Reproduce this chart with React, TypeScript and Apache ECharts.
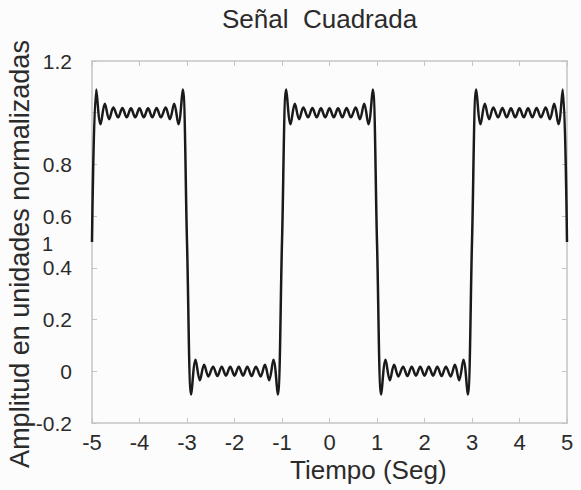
import React, { useEffect, useRef } from "react";
import * as echarts from "echarts";

// Jump points (value 0.5 at each discontinuity)
const saltosT = [-5, -3, -1, 1, 3, 5];
const saltosY = [0.5, 0.5, 0.5, 0.5, 0.5, 0.5];

// Plateau segments: time (s) and amplitude
const tAlto1 = [-4.91, -4.82, -4.73, -4.64, -4.55, -4.45, -4.36, -4.27, -4.18, -4.09, -4.0, -3.91, -3.82, -3.73, -3.64, -3.55, -3.45, -3.36, -3.27, -3.18, -3.09];
const yAlto1 = [1.09, 0.955, 1.035, 0.975, 1.02, 0.982, 1.018, 0.982, 1.017, 0.982, 1.017, 0.982, 1.017, 0.982, 1.018, 0.982, 1.02, 0.975, 1.035, 0.955, 1.09];

const tBajo1 = [-2.91, -2.82, -2.73, -2.64, -2.55, -2.45, -2.36, -2.27, -2.18, -2.09, -2.0, -1.91, -1.82, -1.73, -1.64, -1.55, -1.45, -1.36, -1.27, -1.18, -1.09];
const yBajo1 = [-0.09, 0.045, -0.035, 0.025, -0.02, 0.018, -0.018, 0.018, -0.017, 0.018, -0.017, 0.018, -0.017, 0.018, -0.018, 0.018, -0.02, 0.025, -0.035, 0.045, -0.09];

const tAlto2 = [-0.91, -0.82, -0.73, -0.64, -0.55, -0.45, -0.36, -0.27, -0.18, -0.09, 0.0, 0.09, 0.18, 0.27, 0.36, 0.45, 0.55, 0.64, 0.73, 0.82, 0.91];
const yAlto2 = [1.09, 0.955, 1.035, 0.975, 1.02, 0.982, 1.018, 0.982, 1.017, 0.982, 1.017, 0.982, 1.017, 0.982, 1.018, 0.982, 1.02, 0.975, 1.035, 0.955, 1.09];

const tBajo2 = [1.09, 1.18, 1.27, 1.36, 1.45, 1.55, 1.64, 1.73, 1.82, 1.91, 2.0, 2.09, 2.18, 2.27, 2.36, 2.45, 2.55, 2.64, 2.73, 2.82, 2.91];
const yBajo2 = [-0.09, 0.045, -0.035, 0.025, -0.02, 0.018, -0.018, 0.018, -0.017, 0.018, -0.017, 0.018, -0.017, 0.018, -0.018, 0.018, -0.02, 0.025, -0.035, 0.045, -0.09];

const tAlto3 = [3.09, 3.18, 3.27, 3.36, 3.45, 3.55, 3.64, 3.73, 3.82, 3.91, 4.0, 4.09, 4.18, 4.27, 4.36, 4.45, 4.55, 4.64, 4.73, 4.82, 4.91];
const yAlto3 = [1.09, 0.955, 1.035, 0.975, 1.02, 0.982, 1.018, 0.982, 1.017, 0.982, 1.017, 0.982, 1.017, 0.982, 1.018, 0.982, 1.02, 0.975, 1.035, 0.955, 1.09];

// Axis ticks
const xTicks = [-5, -4, -3, -2, -1, 0, 1, 2, 3, 4, 5];
const yTicks = ["-0.2", "0", "0.2", "0.4", "0.6", "0.8", "", "1.2"];

const FONT = "'Liberation Sans', Arial, Helvetica, sans-serif";
const AXIS_GRAY = "#c4c4c4";

function pairs(ts: number[], ys: number[]) {
  return ts.map((t, i) => [t, ys[i]]);
}

function buildSeries() {
  const segs: number[][][] = [
    pairs(tAlto1, yAlto1),
    pairs(tBajo1, yBajo1),
    pairs(tAlto2, yAlto2),
    pairs(tBajo2, yBajo2),
    pairs(tAlto3, yAlto3),
  ];
  const out: number[][] = [];
  for (let i = 0; i < saltosT.length; i++) {
    out.push([saltosT[i], saltosY[i]]);
    if (i < segs.length) out.push(...segs[i]);
  }
  return out;
}

const axisLineStyle = { onZero: false, lineStyle: { color: AXIS_GRAY, width: 1.5 } };

export default function App() {
  const ref = useRef<HTMLDivElement>(null);
  useEffect(() => {
    if (!ref.current) return;
    const chart = echarts.init(ref.current, undefined, { renderer: "svg" });
    const yLabel = (v: number) => {
      const idx = Math.round((v + 0.2) / 0.2);
      return yTicks[idx] ?? "";
    };
    chart.setOption({
      animation: false,
      backgroundColor: "#fcfcfc",
      textStyle: { fontFamily: FONT },
      grid: { left: 92, right: 14, top: 61, bottom: 67 },
      xAxis: [
        {
          type: "value",
          min: xTicks[0],
          max: xTicks[xTicks.length - 1],
          interval: 1,
          axisLine: axisLineStyle,
          axisTick: { inside: true, length: 5, lineStyle: { color: AXIS_GRAY } },
          splitLine: { show: false },
          axisLabel: { fontSize: 22, color: "#2b2b2b", margin: 8, fontFamily: FONT },
        },
        {
          type: "value",
          position: "top",
          min: xTicks[0],
          max: xTicks[xTicks.length - 1],
          interval: 1,
          axisLine: axisLineStyle,
          axisTick: { inside: true, length: 5, lineStyle: { color: AXIS_GRAY } },
          splitLine: { show: false },
          axisLabel: { show: false },
        },
      ],
      yAxis: [
        {
          type: "value",
          min: -0.2,
          max: 1.2,
          interval: 0.2,
          axisLine: { show: true, ...axisLineStyle },
          axisTick: { show: true, inside: true, length: 5, lineStyle: { color: AXIS_GRAY } },
          splitLine: { show: false },
          axisLabel: {
            fontSize: 21,
            color: "#2b2b2b",
            margin: 20,
            fontFamily: FONT,
            formatter: yLabel,
          },
        },
        {
          type: "value",
          position: "right",
          min: -0.2,
          max: 1.2,
          interval: 0.2,
          axisLine: { show: true, ...axisLineStyle },
          axisTick: { show: true, inside: true, length: 5, lineStyle: { color: AXIS_GRAY } },
          splitLine: { show: false },
          axisLabel: { show: false },
        },
      ],
      graphic: [
        {
          type: "text",
          left: 222,
          top: 6,
          style: { text: "Señal  Cuadrada", fontSize: 26, fill: "#2b2b2b", fontFamily: FONT },
        },
        {
          type: "text",
          left: 290,
          top: 457,
          style: { text: "Tiempo (Seg)", fontSize: 26, fill: "#2b2b2b", fontFamily: FONT },
        },
        {
          type: "text",
          x: 20,
          y: 254,
          rotation: Math.PI / 2,
          style: {
            text: "Amplitud en unidades normalizadas",
            fontSize: 27,
            fill: "#2b2b2b",
            fontFamily: FONT,
            align: "center",
            verticalAlign: "middle",
          },
        },
        {
          type: "text",
          left: 42,
          top: 234,
          style: { text: "1", fontSize: 20, fill: "#2b2b2b", fontFamily: FONT },
        },
      ],
      series: [
        {
          type: "line",
          data: buildSeries(),
          xAxisIndex: 0,
          yAxisIndex: 0,
          smooth: 0.35,
          showSymbol: false,
          symbol: "none",
          lineStyle: { color: "#1a1a1a", width: 2.5 },
        },
      ],
    });
    return () => chart.dispose();
  }, []);
  return (
    <div
      ref={ref}
      style={{ position: "fixed", left: 0, top: 0, width: 581, height: 490 }}
    />
  );
}
